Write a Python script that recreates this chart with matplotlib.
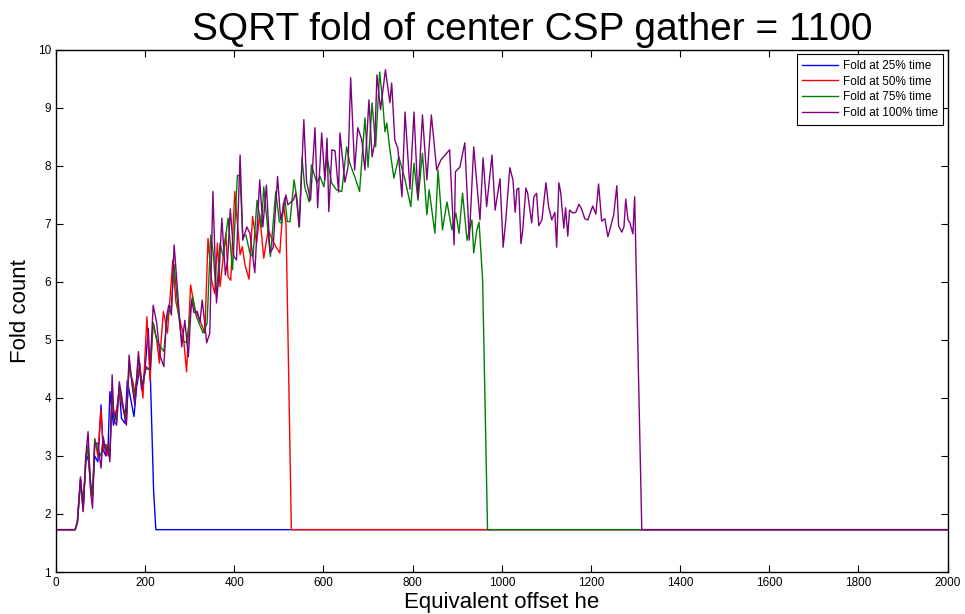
import matplotlib
matplotlib.use('Agg')
import matplotlib.pyplot as plt

plt.rcParams['font.family'] = ['Liberation Sans', 'DejaVu Sans']

# offsets / fold values
blue_x = [0, 43, 48, 55, 61, 67, 72, 78, 82, 87, 94, 101, 106, 112, 117, 121, 129, 137, 142, 147,
          155, 160, 166, 175, 181, 188, 195, 202, 207, 212, 219, 224, 2000]
blue_y = [1.73, 1.73, 1.85, 2.6, 2.1, 2.9, 3.0, 2.5, 2.4, 3.0, 2.9, 3.88, 3.1, 3.0, 3.2, 4.11, 3.53, 3.82, 4.15, 3.65,
          3.56, 4.3, 4.05, 3.68, 4.2, 4.5, 4.15, 4.7, 5.2, 4.3, 2.4, 1.73, 1.73]

red_x = [0, 43, 48, 55, 61, 67, 72, 78, 82, 87, 94, 101, 106, 112, 117, 121, 126, 130, 136, 142,
         147, 152, 158, 164, 172, 177, 188, 195, 204, 211, 218, 226, 232, 241, 250, 262, 269, 278, 285, 293,
         302, 312, 323, 334, 341, 349, 356, 362, 368, 381, 386, 392, 401, 413, 418, 424, 433, 441, 450, 457,
         466, 476, 486, 491, 502, 510, 516, 528, 2000]
red_y = [1.73, 1.73, 1.85, 2.6, 2.05, 3.0, 3.1, 2.4, 2.3, 3.3, 3.0, 3.8, 3.1, 3.2, 3.0, 3.1, 4.0, 3.7, 3.8, 4.1,
         3.9, 3.8, 3.7, 4.5, 4.3, 4.1, 4.6, 4.0, 5.4, 4.3, 5.3, 5.0, 4.6, 5.49, 5.12, 6.38, 5.66, 5.34, 5.12, 4.45,
         5.95, 5.52, 5.34, 5.12, 6.75, 6.03, 5.8, 6.67, 5.92, 6.84, 6.09, 6.03, 7.56, 6.47, 6.61, 6.29, 6.05, 7.13, 6.67, 7.16,
         6.41, 6.9, 6.72, 6.64, 6.5, 7.36, 7.0, 1.73, 1.73]

green_x = [0, 43, 48, 55, 61, 67, 72, 78, 82, 87, 94, 101, 106, 112, 117, 121, 126, 130, 136, 142,
           147, 152, 158, 164, 172, 177, 185, 192, 202, 211, 218, 226, 233, 242, 248, 253, 259, 265, 274, 282,
           293, 306, 315, 330, 339, 347, 352, 360, 368, 375, 386, 396, 407, 413, 419, 426, 435, 442, 451, 461,
           466, 481, 493, 501, 506, 513, 519, 525, 534, 541, 545, 552, 558, 568, 573, 585, 592, 601, 608, 618,
           629, 641, 652, 659, 670, 681, 693, 700, 709, 717, 726, 733, 738, 742, 749, 758, 769, 782, 796, 803,
           812, 822, 832, 837, 850, 857, 867, 877, 888, 897, 904, 912, 922, 933, 937, 944, 949, 957, 968, 2000]
green_y = [1.73, 1.73, 1.85, 2.55, 2.15, 2.9, 3.2, 2.5, 2.3, 3.28, 3.1, 3.0, 3.3, 3.1, 3.2, 3.0, 4.1, 3.7, 3.6, 4.2,
           4.0, 3.8, 3.6, 4.6, 4.2, 4.0, 4.7, 4.2, 4.5, 4.5, 5.3, 5.0, 4.9, 4.8, 5.3, 5.5, 5.6, 6.3, 5.5, 5.0,
           4.95, 5.75, 5.4, 5.12, 5.29, 6.81, 6.55, 5.75, 6.67, 6.44, 7.1, 6.21, 7.84, 7.82, 6.78, 6.81, 6.5, 6.44, 7.41, 6.95,
           7.64, 6.44, 7.56, 7.04, 7.01, 7.45, 7.04, 7.04, 7.76, 7.41, 6.95, 8.13, 7.64, 7.38, 8.02, 7.71, 7.82, 7.64, 8.16, 7.71,
           7.59, 7.56, 8.33, 8.05, 7.82, 7.56, 8.83, 7.98, 9.09, 8.33, 9.62, 9.09, 8.59, 8.74, 8.28, 7.79, 8.16, 7.79, 7.3, 8.05,
           7.41, 8.22, 7.16, 7.59, 6.84, 7.93, 6.9, 7.38, 6.9, 7.19, 6.84, 7.53, 6.72, 7.07, 6.5, 6.9, 7.03, 6.03, 1.73, 1.73]

purple_x = [0, 43, 48, 55, 61, 67, 72, 78, 82, 87, 94, 101, 106, 112, 117, 121, 126, 130, 136, 142,
            147, 152, 158, 164, 172, 177, 185, 192, 202, 211, 218, 226, 233, 242, 248, 253, 259, 265, 274, 282,
            289, 297, 304, 310, 317, 323, 328, 333, 338, 345, 352, 360, 366, 372, 380, 385, 391, 399, 405, 413,
            419, 428, 435, 446, 457, 464, 472, 480, 487, 497, 504, 516, 520, 532, 538, 546, 556, 562, 571, 581,
            587, 596, 603, 608, 612, 619, 626, 634, 637, 648, 655, 661, 670, 677, 686, 693, 702, 709, 715, 720,
            728, 739, 749, 753, 760, 767, 776, 783, 794, 803, 812, 822, 832, 842, 854, 863, 883, 893, 896, 906,
            917, 927, 937, 951, 958, 966, 978, 985, 996, 1003, 1009, 1018, 1025, 1030, 1034, 1038, 1043, 1047, 1054, 1058,
            1067, 1072, 1078, 1083, 1090, 1099, 1105, 1112, 1119, 1123, 1128, 1132, 1139, 1143, 1148, 1152, 1159, 1166, 1173, 1179,
            1186, 1193, 1204, 1211, 1217, 1224, 1231, 1238, 1244, 1251, 1258, 1262, 1269, 1274, 1278, 1283, 1287, 1294, 1298, 1314, 2000]
purple_y = [1.73, 1.73, 1.87, 2.64, 2.04, 3.02, 3.42, 2.36, 2.1, 3.22, 3.22, 2.79, 3.33, 3.02, 3.19, 2.9, 4.4, 3.62, 3.53, 4.28,
            4.05, 3.76, 3.53, 4.74, 4.14, 3.88, 4.8, 4.14, 4.54, 4.48, 5.6, 5.29, 4.74, 4.54, 5.4, 5.6, 5.43, 6.64, 5.72, 4.88,
            5.34, 4.71, 5.69, 5.47, 5.49, 5.31, 5.69, 5.34, 4.95, 5.12, 7.56, 5.64, 6.16, 7.1, 6.12, 6.38, 7.26, 6.44, 6.38, 8.19,
            6.72, 6.95, 6.84, 6.16, 7.76, 6.95, 7.67, 6.5, 6.59, 7.82, 7.07, 7.5, 7.33, 7.41, 7.53, 6.95, 8.8, 7.73, 7.41, 8.66,
            7.28, 8.57, 7.76, 8.48, 7.21, 8.28, 8.26, 7.55, 8.57, 7.72, 7.98, 9.52, 7.93, 8.66, 8.45, 7.93, 9.14, 8.16, 8.4, 9.57,
            8.97, 9.66, 9.09, 9.43, 8.45, 8.3, 7.47, 8.93, 7.6, 8.93, 7.45, 8.88, 7.76, 8.88, 7.93, 8.1, 8.28, 6.64, 7.9, 7.98,
            8.4, 6.72, 8.33, 7.07, 8.14, 7.3, 8.19, 7.24, 7.78, 6.6, 7.07, 7.97, 7.76, 7.2, 7.6, 7.62, 6.66, 6.9, 7.62, 7.53,
            7.02, 7.47, 7.53, 6.97, 7.07, 7.71, 7.3, 7.07, 7.2, 6.6, 7.71, 7.55, 6.93, 7.28, 6.79, 7.24, 7.19, 7.2, 7.34, 7.26,
            7.09, 7.07, 7.31, 7.17, 7.69, 7.05, 7.09, 6.78, 6.95, 7.16, 7.66, 6.97, 6.86, 6.95, 7.43, 7.07, 7.03, 6.83, 7.47, 1.73, 1.73]

fig = plt.figure(figsize=(9.65, 6.14), dpi=100)
ax = fig.add_axes([0.058, 0.0684, 0.924, 0.8502])

ax.plot(blue_x, blue_y, color='blue', lw=1.0, label='Fold at 25% time')
ax.plot(red_x, red_y, color='red', lw=1.0, label='Fold at 50% time')
ax.plot(green_x, green_y, color='#008000', lw=1.0, label='Fold at 75% time')
ax.plot(purple_x, purple_y, color='#800080', lw=1.0, label='Fold at 100% time')

ax.set_xlim(0, 2000)
ax.set_ylim(1, 10)
ax.set_xticks(range(0, 2001, 200))
ax.set_yticks(range(1, 11))
ax.tick_params(direction='in', top=True, right=True, labelsize=8.5, length=5, width=0.8)
for s in ax.spines.values():
    s.set_linewidth(1.0)

ax.set_title('SQRT fold of center CSP gather = 1100', fontsize=28, pad=7, x=0.534)
ax.set_xlabel('Equivalent offset he', fontsize=16, labelpad=2)
ax.set_ylabel('Fold count', fontsize=16, labelpad=5)

leg = ax.legend(loc='upper right', fontsize=8.5, fancybox=False, framealpha=1,
                edgecolor='black', borderaxespad=0.35, handlelength=3.0,
                labelspacing=0.3, borderpad=0.5, handletextpad=0.4)
leg.get_frame().set_linewidth(0.8)

plt.savefig('out.png', dpi=100)
